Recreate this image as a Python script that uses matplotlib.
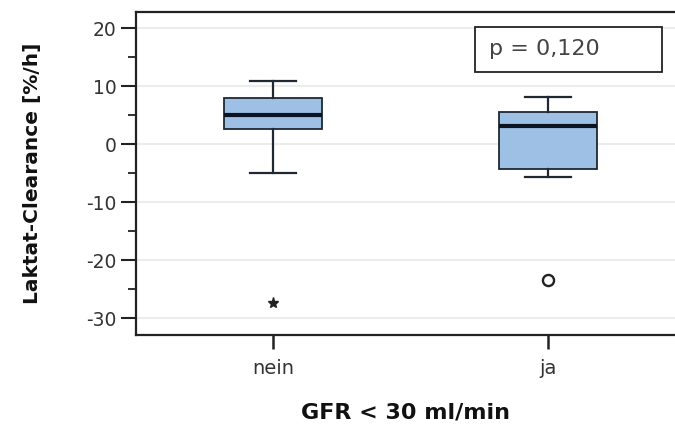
import matplotlib
matplotlib.use("Agg")
import matplotlib.pyplot as plt
from matplotlib.patches import Rectangle

categories = ["nein", "ja"]
whislo = [-4.9, -5.6]
q1 = [2.7, -4.2]
med = [5.0, 3.2]
q3 = [7.9, 5.6]
whishi = [10.9, 8.2]
extreme_outliers = [[-27.3], []]   # star
mild_outliers = [[], [-23.4]]       # circle
p_text = "p = 0,120"
yticks = [20, 10, 0, -10, -20, -30]

plt.rcParams['font.family'] = ['DejaVu Sans']

fig = plt.figure(figsize=(6.75, 4.3), dpi=100)
ax = fig.add_axes([0.2015, 0.221, 0.7985, 0.751])

stats = []
for i, c in enumerate(categories):
    stats.append(dict(label=c, whislo=whislo[i], q1=q1[i], med=med[i],
                      q3=q3[i], whishi=whishi[i], fliers=[]))

edge = "#1f2833"
bp = ax.bxp(stats, positions=range(len(categories)), widths=0.355,
            patch_artist=True, showfliers=False,
            boxprops=dict(facecolor="#9dc0e4", edgecolor=edge, linewidth=1.3),
            medianprops=dict(color="#0b1420", linewidth=3),
            whiskerprops=dict(color=edge, linewidth=1.6),
            capprops=dict(color=edge, linewidth=1.6),
            capwidths=0.17, zorder=3)

for i in range(len(categories)):
    if extreme_outliers[i]:
        ax.plot([i] * len(extreme_outliers[i]), extreme_outliers[i], marker="*",
                linestyle="none", color="#222222", markersize=8, zorder=4)
    if mild_outliers[i]:
        ax.plot([i] * len(mild_outliers[i]), mild_outliers[i], marker="o",
                linestyle="none", markerfacecolor="white", markeredgecolor="#222222",
                markeredgewidth=1.7, markersize=8, zorder=4)

ax.set_xlim(-0.498, 1.462)
ax.set_ylim(-32.9, 22.8)
ax.set_yticks(yticks)
ax.set_yticklabels([str(t) for t in yticks])
ax.set_yticks([15, 5, -5, -15, -25], minor=True)
ax.yaxis.grid(True, color="#ebebeb", linewidth=1.3, zorder=0)
ax.set_axisbelow(True)
ax.tick_params(axis="y", which="major", length=11, width=1.5, labelsize=13.5,
               colors="#222222", labelcolor="#333333", pad=3)
ax.tick_params(axis="y", which="minor", length=6, width=1.3, colors="#222222")
ax.tick_params(axis="x", length=10, width=1.8, labelsize=14, colors="#222222",
               labelcolor="#333333", pad=7)
ax.set_xticks(range(len(categories)))
ax.set_xticklabels(categories)

for s in ["left", "top", "bottom"]:
    ax.spines[s].set_linewidth(1.6)
    ax.spines[s].set_color("#222222")
ax.spines["right"].set_visible(False)

ax.set_ylabel("Laktat-Clearance [%/h]", fontsize=14.5, fontweight="bold",
              labelpad=32, color="#111111")
ax.set_xlabel("GFR < 30 ml/min", fontsize=16, fontweight="bold", labelpad=18,
              color="#111111")

ax.add_patch(Rectangle((0.629, 0.814), 0.347, 0.140, transform=ax.transAxes,
                       facecolor="white", edgecolor="#222222", linewidth=1.3,
                       zorder=5))
ax.text(0.655, 0.884, p_text, transform=ax.transAxes, fontsize=16, color="#444444",
        ha="left", va="center", zorder=6)

fig.savefig("out.png", dpi=100)
